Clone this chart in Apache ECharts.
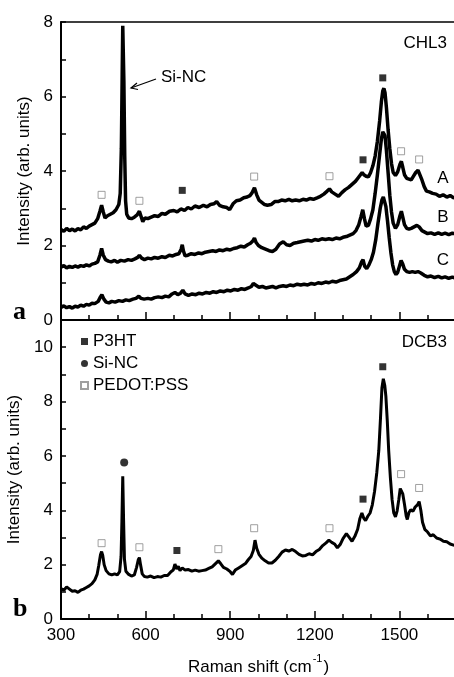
<!DOCTYPE html>
<html>
<head>
<meta charset="utf-8">
<script src="https://cdn.jsdelivr.net/npm/echarts@6/dist/echarts.min.js"></script>
<style>
    html, body { margin: 0; padding: 0; background: #fff; }
    #chart { width: 454px; height: 677px; }
</style>
</head>
<body>
<div id="chart"></div>
<script>
// Raman spectra, [shift cm-1, intensity]
var chl3A = [[300,2.43],[310,2.38],[320,2.46],[330,2.40],[340,2.44],[350,2.39],[360,2.45],[370,2.42],[380,2.50],[390,2.46],[400,2.52],[410,2.56],[420,2.60],[430,2.72],[438,2.92],[444,3.08],[450,2.90],[456,2.74],[465,2.80],[475,2.84],[485,2.88],[495,2.96],[505,3.10],[510,3.40],[514,4.6],[517,6.6],[519,7.9],[521,7.9],[523,6.4],[526,4.4],[529,3.2],[533,2.84],[540,2.74],[550,2.72],[560,2.76],[570,2.82],[578,2.92],[584,2.78],[590,2.64],[598,2.74],[608,2.72],[620,2.76],[632,2.80],[645,2.78],[658,2.86],[670,2.84],[685,2.92],[700,2.94],[712,2.90],[725,2.98],[738,2.94],[750,3.02],[762,2.98],[775,3.06],[790,3.02],[805,3.08],[818,3.04],[830,3.10],[842,3.12],[852,3.18],[862,3.08],[875,3.04],[888,3.02],[898,2.96],[910,3.12],[922,3.20],[935,3.22],[948,3.28],[960,3.30],[970,3.34],[978,3.42],[986,3.55],[994,3.36],[1002,3.22],[1012,3.16],[1022,3.10],[1032,3.08],[1045,3.10],[1058,3.18],[1070,3.18],[1082,3.22],[1095,3.20],[1108,3.24],[1120,3.20],[1132,3.22],[1145,3.20],[1158,3.24],[1170,3.22],[1182,3.26],[1195,3.24],[1208,3.28],[1220,3.32],[1232,3.38],[1244,3.46],[1252,3.52],[1260,3.44],[1272,3.38],[1284,3.32],[1296,3.42],[1308,3.50],[1320,3.56],[1332,3.64],[1344,3.72],[1354,3.82],[1362,3.90],[1368,3.96],[1374,3.90],[1382,3.86],[1390,3.84],[1398,3.96],[1406,4.14],[1414,4.40],[1422,4.80],[1430,5.35],[1436,5.85],[1441,6.15],[1445,6.22],[1449,6.10],[1454,5.70],[1460,5.10],[1466,4.60],[1472,4.20],[1478,3.96],[1486,3.88],[1494,3.98],[1502,4.18],[1507,4.26],[1512,4.10],[1518,3.90],[1526,3.80],[1534,3.78],[1542,3.76],[1550,3.86],[1558,3.96],[1566,4.02],[1572,3.98],[1580,3.76],[1588,3.58],[1596,3.46],[1606,3.44],[1618,3.40],[1630,3.38],[1642,3.32],[1655,3.36],[1668,3.30],[1680,3.34],[1692,3.28],[1700,3.30]];

var chl3B = [[300,1.42],[310,1.46],[320,1.40],[330,1.44],[340,1.41],[350,1.45],[360,1.42],[370,1.46],[380,1.44],[390,1.48],[400,1.45],[410,1.50],[420,1.52],[430,1.56],[438,1.74],[444,1.92],[450,1.74],[458,1.62],[468,1.58],[478,1.56],[490,1.60],[500,1.55],[512,1.60],[525,1.58],[538,1.62],[550,1.60],[562,1.64],[572,1.68],[578,1.74],[586,1.66],[596,1.62],[608,1.66],[620,1.64],[632,1.68],[645,1.66],[658,1.70],[670,1.68],[684,1.74],[696,1.72],[708,1.76],[718,1.78],[726,1.90],[730,2.02],[734,1.86],[740,1.72],[750,1.74],[762,1.78],[775,1.76],[788,1.80],[800,1.78],[812,1.82],[825,1.84],[838,1.86],[850,1.84],[862,1.88],[875,1.86],[888,1.90],[900,1.88],[912,1.92],[925,1.94],[938,1.98],[950,1.96],[962,2.02],[972,2.06],[980,2.12],[986,2.20],[992,2.08],[1000,2.00],[1012,1.94],[1025,1.90],[1038,1.86],[1050,1.84],[1062,1.90],[1075,2.04],[1088,2.10],[1100,2.02],[1112,2.00],[1125,2.06],[1138,2.08],[1150,2.10],[1162,2.12],[1175,2.14],[1188,2.12],[1200,2.16],[1212,2.14],[1225,2.18],[1238,2.16],[1250,2.18],[1262,2.16],[1275,2.20],[1288,2.18],[1300,2.22],[1312,2.24],[1324,2.28],[1336,2.32],[1346,2.40],[1356,2.56],[1364,2.78],[1370,2.96],[1376,2.72],[1382,2.52],[1390,2.54],[1398,2.72],[1406,2.96],[1414,3.40],[1422,3.90],[1430,4.45],[1436,4.85],[1441,5.05],[1445,5.10],[1449,4.95],[1454,4.55],[1460,3.95],[1466,3.35],[1472,2.90],[1478,2.60],[1486,2.46],[1494,2.56],[1502,2.80],[1507,2.92],[1512,2.76],[1518,2.56],[1526,2.46],[1534,2.44],[1542,2.46],[1552,2.50],[1562,2.54],[1570,2.50],[1580,2.40],[1590,2.36],[1600,2.32],[1612,2.34],[1625,2.30],[1638,2.34],[1650,2.30],[1662,2.33],[1675,2.29],[1688,2.33],[1700,2.31]];

var chl3C = [[300,0.34],[310,0.38],[320,0.33],[330,0.36],[340,0.32],[350,0.37],[360,0.35],[370,0.40],[380,0.37],[390,0.42],[400,0.40],[410,0.45],[420,0.44],[432,0.50],[440,0.62],[445,0.68],[452,0.56],[460,0.48],[470,0.46],[480,0.50],[492,0.48],[505,0.52],[518,0.50],[530,0.54],[542,0.52],[555,0.56],[566,0.58],[576,0.64],[584,0.58],[595,0.56],[608,0.58],[620,0.56],[632,0.60],[645,0.62],[658,0.60],[670,0.64],[682,0.62],[694,0.70],[704,0.74],[714,0.68],[724,0.72],[732,0.80],[740,0.70],[752,0.66],[765,0.70],[778,0.68],[790,0.72],[802,0.70],[815,0.74],[828,0.72],[840,0.76],[852,0.74],[865,0.78],[878,0.76],[890,0.80],[902,0.78],[915,0.82],[928,0.80],[940,0.84],[952,0.82],[964,0.86],[975,0.90],[982,0.98],[988,1.02],[994,0.92],[1002,0.88],[1014,0.90],[1026,0.86],[1038,0.88],[1050,0.90],[1062,0.86],[1075,0.90],[1088,0.92],[1100,0.90],[1112,0.94],[1125,0.92],[1138,0.96],[1150,0.94],[1162,0.96],[1175,0.94],[1188,0.98],[1200,0.96],[1212,1.00],[1225,0.98],[1238,1.02],[1250,1.00],[1262,1.04],[1275,1.02],[1288,1.06],[1300,1.08],[1312,1.10],[1324,1.16],[1336,1.22],[1348,1.30],[1358,1.40],[1366,1.56],[1371,1.62],[1377,1.44],[1384,1.38],[1392,1.48],[1400,1.62],[1408,1.82],[1416,2.15],[1424,2.60],[1432,3.00],[1438,3.22],[1443,3.30],[1447,3.28],[1452,3.05],[1458,2.65],[1464,2.20],[1470,1.80],[1476,1.48],[1482,1.30],[1488,1.22],[1494,1.28],[1500,1.44],[1506,1.60],[1511,1.52],[1518,1.36],[1526,1.30],[1536,1.28],[1546,1.30],[1556,1.28],[1566,1.30],[1576,1.26],[1588,1.20],[1600,1.16],[1612,1.18],[1625,1.14],[1638,1.17],[1650,1.13],[1662,1.16],[1675,1.12],[1688,1.15],[1700,1.12]];

var dcb3 = [[300,1.12],[310,1.06],[320,1.18],[330,1.10],[340,1.02],[350,1.04],[360,0.98],[370,1.06],[380,1.10],[390,1.16],[400,1.22],[410,1.30],[420,1.44],[428,1.64],[434,1.98],[440,2.36],[444,2.48],[448,2.34],[453,2.00],[460,1.78],[470,1.66],[480,1.62],[490,1.66],[500,1.62],[508,1.74],[513,2.30],[516,3.60],[519,5.25],[522,3.60],[525,2.20],[530,1.76],[540,1.64],[550,1.58],[560,1.62],[568,1.90],[574,2.18],[578,2.26],[582,2.00],[588,1.66],[596,1.56],[606,1.54],[618,1.58],[630,1.52],[642,1.56],[654,1.54],[666,1.60],[678,1.60],[690,1.74],[698,1.80],[704,2.02],[710,1.84],[716,1.94],[722,1.78],[730,1.88],[740,1.80],[752,1.82],[764,1.76],[776,1.80],[788,1.76],[800,1.78],[812,1.80],[824,1.86],[836,1.92],[848,2.04],[858,2.14],[866,2.04],[876,1.90],[888,1.84],[900,1.74],[908,1.64],[918,1.80],[930,1.88],[942,1.96],[954,2.04],[964,2.18],[974,2.30],[982,2.52],[988,2.90],[994,2.60],[1002,2.38],[1012,2.24],[1024,2.14],[1036,2.06],[1048,2.06],[1060,2.16],[1072,2.30],[1084,2.46],[1096,2.54],[1108,2.50],[1120,2.56],[1132,2.48],[1144,2.38],[1156,2.32],[1168,2.34],[1180,2.40],[1192,2.36],[1204,2.48],[1216,2.56],[1228,2.70],[1240,2.80],[1250,2.90],[1260,2.82],[1270,2.76],[1280,2.62],[1290,2.74],[1300,2.96],[1312,3.14],[1322,3.00],[1332,2.86],[1342,3.04],[1352,3.30],[1360,3.70],[1367,3.90],[1374,3.70],[1380,3.62],[1388,3.78],[1396,3.90],[1404,4.20],[1412,4.70],[1420,5.40],[1427,6.20],[1433,7.40],[1438,8.50],[1443,8.84],[1448,8.60],[1452,8.20],[1457,7.30],[1462,6.20],[1468,5.20],[1474,4.40],[1480,3.90],[1486,3.76],[1492,3.98],[1498,4.40],[1503,4.80],[1507,4.86],[1512,4.60],[1518,4.22],[1524,3.80],[1528,3.66],[1534,3.92],[1540,4.02],[1548,3.96],[1556,4.12],[1564,4.20],[1570,4.32],[1576,4.00],[1582,3.56],[1590,3.30],[1600,3.20],[1610,3.06],[1620,3.10],[1632,2.98],[1644,2.94],[1656,2.86],[1668,2.84],[1680,2.76],[1692,2.72],[1700,2.70]];

// peak assignment markers
var chl3P3HT = [[730,3.48],[1371,4.30],[1441,6.50]];
var chl3PEDOT = [[444,3.36],[578,3.20],[985,3.85],[1252,3.86],[1506,4.53],[1570,4.31]];
var dcb3P3HT = [[711,2.52],[1371,4.41],[1441,9.28]];
var dcb3SiNC = [[524,5.76]];
var dcb3PEDOT = [[444,2.79],[578,2.64],[858,2.57],[985,3.34],[1252,3.34],[1506,5.33],[1570,4.82]];

var curveLabels = ['A', 'B', 'C'];
// x axis: min, max (runs past the right edge of the picture), step
var xTicks = [300, 1800, 300];

var font = 'Liberation Sans, Arial, sans-serif';
var chart = echarts.init(document.getElementById('chart'));

function evenOnly(v) {
    return v % 2 === 0 ? String(v) : '';
}

function xAxisFor(grid, withLabels) {
    return {
        gridIndex: grid,
        type: 'value',
        min: xTicks[0],
        max: xTicks[1],
        interval: xTicks[2],
        position: 'bottom',
        axisLine: { lineStyle: { color: '#000', width: 2 } },
        axisTick: { inside: true, length: 8, lineStyle: { color: '#000', width: 1.5 } },
        minorTick: { show: true, splitNumber: 3, length: 5, lineStyle: { color: '#000', width: 1.5 } },
        axisLabel: {
            show: withLabels, color: '#000', fontSize: 17, fontFamily: font, margin: 8,
            formatter: function (v) { return String(v); }
        },
        splitLine: { show: false },
        name: withLabels ? 'Raman shift (cm{sup|-1})' : '',
        nameLocation: 'middle',
        nameGap: 34,
        nameTextStyle: {
            color: '#000', fontSize: 17, fontFamily: font, lineHeight: 28,
            // visible part of the axis ends at the picture edge, so pull the title left
            padding: [0, 28, 0, 0],
            rich: { sup: { fontSize: 11, fontFamily: font, color: '#000', lineHeight: 14, verticalAlign: 'top', padding: [0, 1, 0, 1] } }
        }
    };
}

function yAxisFor(grid, max) {
    return {
        gridIndex: grid,
        type: 'value',
        min: 0,
        max: max,
        interval: 1,
        axisLine: { show: true, lineStyle: { color: '#000', width: 2 } },
        axisTick: { inside: true, length: 5, lineStyle: { color: '#000', width: 1.5 } },
        axisLabel: { color: '#000', fontSize: 17, fontFamily: font, margin: 8, formatter: evenOnly },
        splitLine: { show: false },
        name: 'Intensity (arb. units)',
        nameLocation: 'middle',
        nameGap: 26,
        nameTextStyle: { color: '#000', fontSize: 17, fontFamily: font }
    };
}

function spectrum(data, xi, yi, w) {
    return {
        type: 'line',
        xAxisIndex: xi,
        yAxisIndex: yi,
        data: data,
        showSymbol: false,
        lineStyle: { color: '#000', width: w },
        z: 3
    };
}

function marks(name, data, xi, yi, kind) {
    var style = { color: '#000' };
    var symbol = 'rect';
    var size = 7;
    if (kind === 'open') {
        style = { color: '#fff', borderColor: '#888', borderWidth: 1 };
    } else if (kind === 'dot') {
        symbol = 'circle';
        size = 8;
    }
    return {
        name: name,
        type: 'scatter',
        xAxisIndex: xi,
        yAxisIndex: yi,
        data: data,
        symbol: symbol,
        symbolSize: size,
        itemStyle: style,
        z: 4
    };
}

function txt(text, x, y, align, size, extra) {
    var s = { text: text, x: x, y: y, align: align, verticalAlign: 'middle', fill: '#000', fontSize: size || 17, fontFamily: font };
    if (extra) Object.assign(s, extra);
    return { type: 'text', style: s, z: 10 };
}

var labelY = [178, 217, 260];
var graphics = [
    txt('CHL3', 447, 43, 'right'),
    txt('DCB3', 447, 342, 'right'),
    txt('Si-NC', 161, 77, 'left'),
    txt('a', 13, 312, 'left', 26, { fontFamily: 'Liberation Serif, Times New Roman, serif', fontWeight: 'bold' }),
    txt('b', 13, 609, 'left', 26, { fontFamily: 'Liberation Serif, Times New Roman, serif', fontWeight: 'bold' }),
    { type: 'polyline', shape: { points: [[156, 79], [131, 88]] }, style: { stroke: '#000', lineWidth: 1.2 }, z: 10 },
    { type: 'polyline', shape: { points: [[137, 83], [131, 88], [138, 89.5]] }, style: { stroke: '#000', lineWidth: 1.2, fill: null }, z: 10 }
];
curveLabels.forEach(function (l, i) {
    graphics.push(txt(l, 443, labelY[i], 'center'));
});

var option = {
    animation: false,
    backgroundColor: '#fff',
    grid: [
        { left: 61, top: 22, width: 423, height: 298, outerBoundsMode: 'none' },
        { left: 61, top: 320, width: 423, height: 299, outerBoundsMode: 'none' }
    ],
    xAxis: [
        xAxisFor(0, false),
        {
            gridIndex: 0, type: 'value', min: xTicks[0], max: xTicks[1], position: 'top',
            axisLine: { lineStyle: { color: '#000', width: 1.5 } },
            axisTick: { show: false }, axisLabel: { show: false }, splitLine: { show: false }
        },
        xAxisFor(1, true)
    ],
    yAxis: [yAxisFor(0, 8), yAxisFor(1, 11)],
    legend: {
        data: ['P3HT', 'Si-NC', 'PEDOT:PSS'],
        orient: 'vertical',
        left: 80,
        top: 333,
        padding: 0,
        itemWidth: 7,
        itemHeight: 7,
        itemGap: 5,
        textStyle: { color: '#000', fontSize: 17, fontFamily: font, lineHeight: 17, padding: [0, 0, 0, 0] }
    },
    graphic: graphics,
    series: [
        spectrum(chl3A, 0, 0, 3.5),
        spectrum(chl3B, 0, 0, 3.5),
        spectrum(chl3C, 0, 0, 3.5),
        spectrum(dcb3, 2, 1, 3),
        marks('chl3-P3HT', chl3P3HT, 0, 0, 'fill'),
        marks('chl3-PEDOT', chl3PEDOT, 0, 0, 'open'),
        marks('P3HT', dcb3P3HT, 2, 1, 'fill'),
        marks('Si-NC', dcb3SiNC, 2, 1, 'dot'),
        marks('PEDOT:PSS', dcb3PEDOT, 2, 1, 'open')
    ]
};

chart.setOption(option);
</script>
</body>
</html>
